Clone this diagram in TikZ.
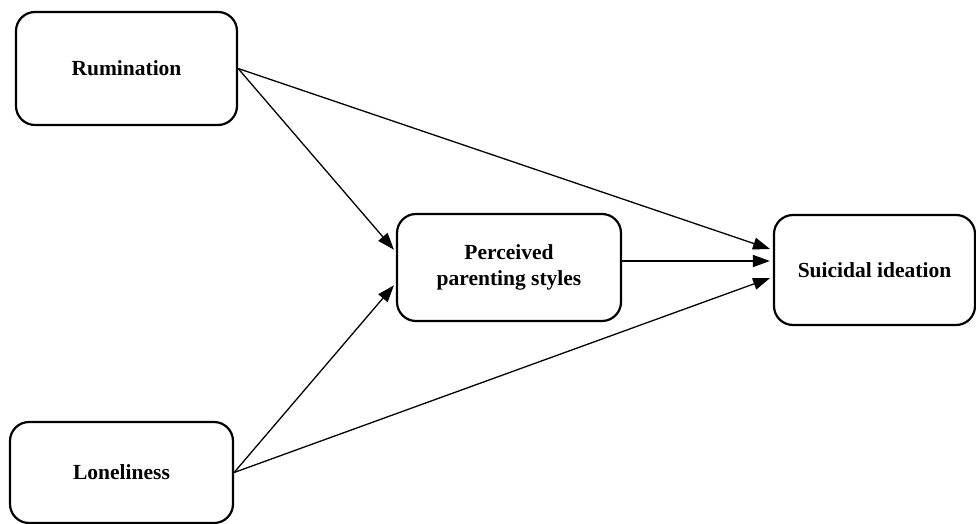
\documentclass[tikz,border=0pt]{standalone}
\usepackage{fontspec}
\setmainfont{Liberation Serif}
\usetikzlibrary{arrows.meta,calc}
\begin{document}
\begin{tikzpicture}[x=1pt,y=-1pt,
  box/.style={draw=black, line width=2.2pt, rounded corners=19pt, fill=white,
    align=center, inner sep=0pt, font=\fontsize{21.5}{26}\selectfont\bfseries},
  conn/.style={line width=1.3pt, -{Triangle[length=17pt,width=12pt]}, shorten >=3pt}]
\useasboundingbox (0,0) rectangle (976,524);
\node[box, minimum width=221pt, minimum height=113pt] (rum) at (126.5,68.5) {Rumination};
\node[box, minimum width=223pt, minimum height=101pt] (lon) at (121.5,472.5) {Loneliness};
\node[box, minimum width=224pt, minimum height=107pt] (per) at (509,267.5) {Perceived\\parenting styles};
\node[box, minimum width=201pt, minimum height=110pt] (sui) at (874.5,270) {Suicidal ideation};
\draw[conn] (rum.east) -- ([yshift=15.5pt]per.west);
\draw[conn] (rum.east) -- ([yshift=20pt]sui.west);
\draw[conn] (lon.east) -- ([yshift=-15.5pt]per.west);
\draw[conn] (lon.east) -- ([yshift=-7pt]sui.west);
\draw[conn] ([yshift=6.5pt]per.east) -- ([yshift=9pt]sui.west);
\end{tikzpicture}
\end{document}
